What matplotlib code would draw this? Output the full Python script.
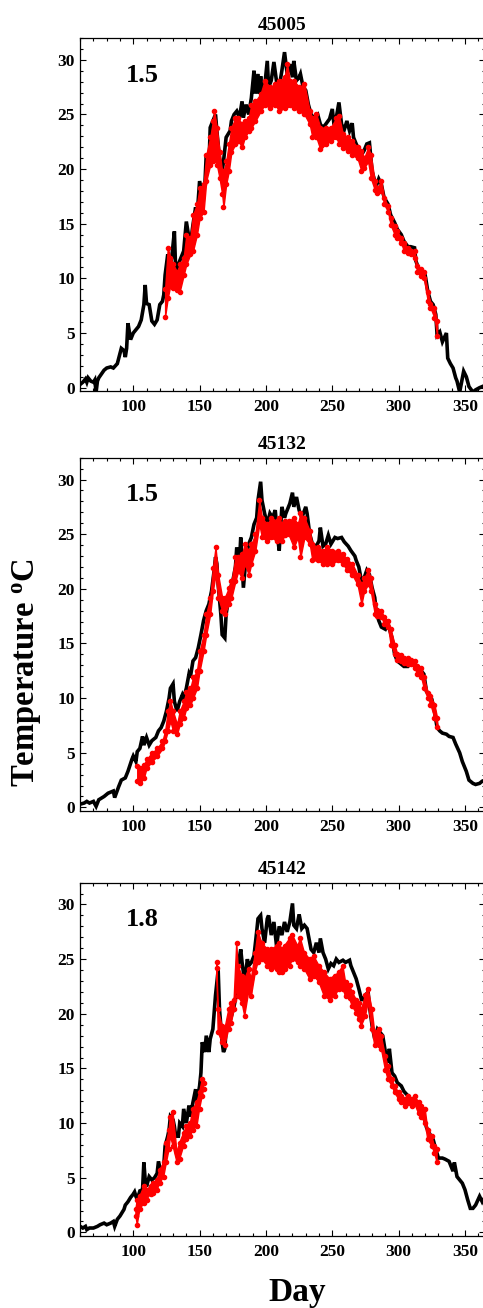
import numpy as np
import matplotlib
matplotlib.use('Agg')
import matplotlib.pyplot as plt
from matplotlib.ticker import MultipleLocator

plt.rcParams['font.family'] = ['Liberation Serif', 'DejaVu Serif']
plt.rcParams['font.weight'] = 'bold'
plt.rcParams['mathtext.fontset'] = 'custom'
plt.rcParams['mathtext.rm'] = 'Liberation Serif:bold'
plt.rcParams['mathtext.bf'] = 'Liberation Serif:bold'
plt.rcParams['mathtext.it'] = 'Liberation Serif:bold:italic'

titles = ['45005', '45132', '45142']
labels = ['1.5', '1.5', '1.8']

# ---------------- Panel 1 (45005) ----------------
b1_day = [60, 62, 64, 65, 66, 68, 70, 71, 72, 73,
          74, 78, 80, 83, 85, 88, 91, 93, 94, 95,
          96, 98, 100, 104, 106, 108, 109, 110, 112, 114,
          116, 118, 120, 122, 123, 124, 126, 127, 129, 131,
          132, 134, 136, 138, 140, 142, 144, 145, 147, 148,
          150, 152, 154, 155, 157, 158, 160, 162, 163, 165,
          167, 168, 170, 173, 174, 176, 178, 180, 182, 183,
          185, 187, 189, 191, 192, 194, 195, 196, 197, 199,
          201, 202, 204, 206, 208, 210, 212, 214, 216, 218,
          220, 221, 223, 225, 226, 228, 230, 232, 234, 236,
          239, 241, 243, 245, 248, 250, 251, 253, 255, 257,
          259, 261, 263, 265, 266, 268, 270, 272, 274, 276,
          278, 280, 282, 283, 285, 287, 289, 292, 294, 297,
          299, 302, 304, 307, 309, 312, 313, 315, 318, 320,
          322, 324, 326, 328, 329, 331, 333, 336, 337, 339,
          341, 343, 344, 346, 348, 349, 351, 353, 356, 358,
          361, 363, 365]
b1_temp = [0.3, 0.5, 0.8, 0.5, 0.9, 0.6, 0.5, 0.7, -0.4, 0.6,
           0.9, 1.6, 1.8, 1.9, 1.8, 2.2, 3.6, 3.4, 2.8, 3.6,
           5.9, 4.4, 5.0, 5.6, 6.2, 7.6, 9.4, 7.7, 7.6, 6.1,
           5.8, 6.2, 7.6, 7.9, 8.5, 10.3, 12.2, 10.9, 11.9, 14.3,
           10.6, 11.3, 11.9, 12.5, 15.2, 13.7, 14.0, 14.9, 16.5, 15.5,
           18.9, 17.7, 18.6, 21.3, 20.1, 23.8, 24.4, 25.0, 23.5, 21.0,
           19.8, 20.7, 22.9, 23.5, 24.4, 25.0, 25.3, 24.7, 26.2, 24.7,
           25.9, 25.0, 26.5, 29.0, 26.9, 28.7, 26.9, 28.5, 27.0, 27.5,
           29.9, 27.5, 28.1, 29.8, 28.0, 27.5, 29.0, 30.7, 28.7, 29.6,
           28.4, 29.9, 28.1, 28.4, 28.7, 27.5, 27.2, 25.9, 25.0, 24.7,
           25.0, 24.1, 23.8, 24.1, 24.6, 25.5, 24.4, 24.7, 26.1, 24.1,
           23.6, 24.4, 23.5, 24.2, 22.9, 22.3, 21.8, 21.3, 21.7, 22.3,
           22.4, 19.8, 18.9, 18.4, 19.1, 18.6, 17.4, 16.8, 15.8, 15.1,
           14.5, 14.0, 13.4, 12.9, 12.9, 12.8, 11.6, 10.9, 10.6, 10.3,
           8.8, 7.9, 7.6, 6.7, 4.8, 5.1, 4.2, 5.0, 2.7, 2.2,
           1.8, 0.9, 0.6, -0.4, 0.9, 1.5, 1.0, 0.1, -0.4, -0.2,
           0.0, 0.1, 0.2]

r1_day = [124, 126, 128, 130, 133, 135, 138, 140, 143, 145,
          148, 150, 153, 155, 158, 160, 161, 163, 165, 167,
          168, 170, 172, 174, 177, 179, 182, 184, 187, 189,
          192, 196, 199, 203, 207, 210, 214, 216, 218, 221,
          225, 229, 233, 235, 238, 241, 245, 249, 253, 255,
          258, 262, 265, 269, 272, 274, 277, 279, 282, 284,
          287, 289, 292, 294, 297, 299, 302, 304, 307, 309,
          312, 314, 317, 319, 322, 324, 327, 329]
r1_hi = [9.0, 12.8, 11.9, 11.3, 10.6, 11.3, 11.9, 14.0, 13.7, 15.8,
         16.8, 18.3, 18.6, 21.3, 22.9, 24.4, 25.3, 23.8, 21.6, 19.8,
         19.8, 20.7, 22.3, 23.8, 24.7, 24.7, 24.1, 24.4, 24.7, 25.9,
         26.2, 26.9, 28.1, 27.5, 27.8, 28.1, 28.4, 29.6, 28.1, 28.1,
         27.5, 27.8, 25.3, 24.7, 25.0, 23.8, 23.8, 23.8, 24.7, 24.9,
         23.2, 22.9, 22.6, 22.0, 21.7, 21.0, 22.0, 21.3, 18.9, 18.3,
         18.9, 17.4, 16.6, 15.5, 14.8, 14.3, 13.7, 13.2, 12.8, 12.5,
         12.5, 11.1, 10.9, 10.6, 8.8, 7.7, 7.3, 6.1]
r1_lo = [6.5, 8.2, 9.4, 9.1, 8.9, 8.8, 10.3, 11.3, 12.2, 12.5,
         14.0, 15.5, 16.1, 18.9, 20.4, 20.7, 21.0, 20.4, 19.2, 17.7,
         16.5, 18.6, 19.8, 21.6, 22.3, 22.6, 22.0, 22.9, 23.5, 23.8,
         24.4, 25.3, 25.9, 25.6, 25.9, 25.3, 25.6, 25.9, 25.9, 25.6,
         25.3, 25.0, 24.1, 22.9, 22.9, 21.8, 22.3, 22.6, 22.9, 22.3,
         21.9, 21.7, 21.3, 21.0, 19.8, 20.1, 20.7, 19.2, 18.1, 17.8,
         18.0, 16.8, 16.1, 14.9, 14.0, 13.7, 13.2, 12.5, 12.3, 12.2,
         11.9, 10.6, 10.2, 10.0, 7.9, 7.3, 6.4, 4.7]

# ---------------- Panel 2 (45132) ----------------
b2_day = [60, 63, 65, 67, 70, 72, 74, 78, 81, 85,
          86, 89, 91, 94, 96, 99, 100, 102, 103, 105,
          107, 108, 110, 112, 114, 117, 119, 121, 123, 125,
          127, 128, 130, 131, 133, 135, 137, 138, 140, 142,
          143, 145, 147, 149, 151, 153, 155, 157, 159, 161,
          162, 163, 164, 166, 167, 169, 170, 172, 174, 175,
          177, 178, 180, 181, 183, 185, 187, 189, 191, 193,
          194, 196, 197, 199, 201, 203, 205, 207, 209, 210,
          212, 214, 215, 218, 220, 221, 223, 225, 227, 230,
          231, 233, 235, 238, 240, 241, 243, 245, 247, 249,
          252, 254, 257, 259, 262, 264, 267, 268, 270, 272,
          274, 276, 278, 280, 282, 283, 285, 287, 290, 292,
          295, 297, 299, 302, 304, 307, 309, 312, 314, 317,
          319, 321, 323, 325, 327, 329, 331, 333, 336, 338,
          341, 343, 346, 348, 351, 353, 356, 358, 361, 363,
          365]
b2_temp = [0.3, 0.4, 0.55, 0.4, 0.55, 0.1, 0.7, 1.0, 1.3, 1.5,
           0.9, 1.9, 2.5, 2.7, 3.3, 4.4, 4.7, 4.2, 5.1, 5.4,
           6.5, 5.7, 6.4, 5.7, 6.1, 6.4, 7.0, 7.3, 7.9, 8.8,
           10.0, 10.9, 11.3, 9.7, 8.8, 9.7, 10.3, 10.0, 10.9, 12.2,
           11.9, 13.4, 13.7, 14.6, 15.8, 17.1, 18.0, 18.6, 19.8, 21.7,
           22.9, 22.3, 20.4, 17.7, 15.8, 15.5, 17.7, 19.2, 20.4, 20.7,
           22.0, 23.8, 22.3, 24.7, 20.1, 22.9, 24.1, 24.7, 25.9, 26.5,
           28.1, 29.8, 28.1, 26.9, 25.9, 26.9, 26.5, 27.2, 24.5, 23.5,
           27.5, 26.5, 26.9, 27.8, 28.8, 27.5, 28.4, 27.2, 26.5, 27.5,
           26.9, 25.0, 24.1, 23.9, 24.4, 25.6, 23.9, 24.1, 24.9, 24.1,
           24.7, 24.6, 24.7, 24.3, 23.9, 23.5, 23.0, 22.6, 22.0, 20.7,
           21.0, 21.7, 21.3, 20.1, 19.2, 18.0, 17.1, 16.5, 16.3, 16.8,
           15.5, 14.0, 13.4, 13.1, 12.9, 12.9, 13.2, 13.2, 12.8, 12.5,
           12.2, 10.6, 10.3, 9.9, 8.8, 7.3, 7.0, 6.8, 6.7, 6.5,
           6.4, 5.8, 5.0, 4.2, 3.3, 2.5, 2.2, 2.1, 2.2, 2.4,
           2.5]

r2_day = [103, 105, 108, 110, 114, 118, 122, 124, 126, 128,
          130, 133, 135, 138, 140, 143, 145, 148, 150, 153,
          155, 158, 160, 162, 164, 167, 169, 172, 174, 177,
          179, 182, 184, 187, 189, 192, 195, 197, 201, 204,
          208, 210, 212, 214, 217, 221, 224, 226, 229, 233,
          235, 239, 243, 246, 250, 254, 258, 261, 265, 269,
          272, 274, 277, 279, 282, 284, 287, 289, 292, 294,
          297, 299, 302, 304, 307, 309, 312, 314, 317, 319,
          322, 324, 327, 329]
r2_hi = [3.8, 3.6, 3.9, 4.4, 5.0, 5.4, 6.1, 7.0, 8.8, 9.7,
         8.8, 7.6, 8.8, 9.7, 10.6, 10.9, 11.9, 12.5, 14.3, 15.8,
         17.7, 19.2, 21.9, 23.8, 21.3, 19.2, 19.2, 20.1, 20.7, 22.9,
         22.9, 23.2, 24.1, 23.5, 24.1, 25.0, 28.1, 26.5, 25.9, 26.5,
         26.2, 26.5, 25.9, 26.2, 26.2, 26.5, 25.9, 26.9, 26.5, 25.3,
         24.1, 23.8, 23.5, 23.8, 23.5, 23.5, 23.2, 22.7, 22.3, 21.3,
         20.4, 21.0, 21.7, 21.0, 18.6, 18.1, 18.0, 17.4, 17.1, 16.3,
         14.9, 14.0, 13.9, 13.7, 13.7, 13.5, 13.4, 12.9, 12.8, 11.9,
         10.5, 10.2, 9.4, 8.2]
r2_lo = [2.4, 2.2, 2.7, 3.6, 4.2, 4.7, 5.4, 6.1, 7.0, 7.9,
         7.0, 6.7, 7.6, 8.2, 9.1, 9.4, 10.0, 10.9, 12.5, 14.3,
         15.8, 17.7, 19.8, 21.3, 19.2, 18.0, 17.7, 18.6, 19.2, 20.7,
         21.6, 21.0, 22.3, 21.3, 22.3, 23.5, 25.9, 24.7, 24.4, 24.7,
         24.4, 24.7, 24.4, 24.9, 25.0, 23.8, 24.7, 22.9, 24.7, 24.1,
         22.6, 22.6, 22.3, 22.3, 22.3, 22.6, 22.3, 21.7, 21.3, 20.4,
         18.6, 19.8, 20.4, 19.8, 17.7, 17.5, 17.4, 16.8, 16.5, 14.9,
         14.0, 13.5, 13.4, 13.2, 13.1, 13.1, 12.8, 12.2, 11.9, 10.9,
         10.0, 9.4, 8.2, 7.4]

# ---------------- Panel 3 (45142) ----------------
b3_day = [60, 62, 64, 65, 67, 70, 73, 75, 78, 80,
          83, 85, 86, 88, 90, 93, 94, 96, 98, 100,
          101, 102, 103, 105, 107, 108, 109, 110, 112, 114,
          116, 118, 119, 121, 123, 124, 126, 127, 128, 130,
          131, 132, 134, 135, 137, 138, 140, 142, 143, 145,
          147, 148, 150, 151, 152, 154, 155, 157, 158, 160,
          161, 162, 163, 164, 165, 167, 168, 169, 170, 172,
          174, 176, 178, 179, 181, 182, 184, 186, 187, 189,
          191, 193, 194, 196, 197, 199, 201, 202, 204, 206,
          208, 210, 212, 214, 216, 218, 220, 221, 223, 225,
          227, 229, 231, 233, 234, 236, 238, 240, 241, 243,
          245, 247, 249, 251, 253, 255, 258, 260, 263, 264,
          266, 268, 270, 272, 273, 275, 277, 278, 280, 282,
          284, 286, 288, 290, 292, 293, 295, 297, 299, 302,
          304, 307, 309, 312, 314, 317, 319, 321, 323, 326,
          328, 330, 333, 335, 338, 339, 341, 342, 344, 346,
          348, 350, 352, 354, 356, 358, 361, 363, 365]
b3_temp = [0.55, 0.4, 0.55, 0.25, 0.4, 0.4, 0.55, 0.7, 0.85, 0.7,
           0.85, 1.0, 0.55, 1.2, 1.5, 2.1, 2.5, 2.8, 3.2, 3.5,
           3.7, 3.3, 3.0, 3.8, 3.9, 6.4, 4.8, 4.2, 5.1, 4.8,
           5.0, 5.4, 6.5, 5.4, 6.1, 7.9, 8.8, 9.4, 10.6, 10.3,
           9.7, 8.8, 8.8, 10.0, 9.7, 11.3, 10.0, 11.6, 10.6, 11.9,
           13.1, 11.9, 13.4, 14.6, 17.4, 16.5, 18.0, 16.5, 17.7, 18.6,
           20.1, 21.7, 22.9, 24.0, 20.4, 17.4, 16.5, 16.8, 18.6, 18.9,
           19.8, 20.7, 22.0, 24.4, 25.9, 24.7, 22.9, 25.0, 24.4, 24.7,
           25.3, 27.5, 28.7, 29.0, 27.8, 26.5, 28.7, 29.0, 27.2, 28.4,
           26.2, 28.0, 27.2, 28.4, 27.5, 28.4, 30.1, 28.1, 27.8, 29.1,
           27.8, 28.1, 27.8, 26.5, 25.9, 25.6, 26.5, 25.6, 26.9, 25.6,
           25.0, 24.1, 24.6, 24.4, 25.0, 24.7, 24.9, 24.7, 24.9, 24.4,
           23.8, 23.2, 22.3, 21.3, 21.3, 21.7, 22.0, 20.7, 18.9, 17.7,
           18.6, 18.3, 18.0, 16.5, 15.5, 16.8, 14.6, 14.3, 13.7, 13.4,
           12.9, 12.5, 12.2, 12.2, 11.9, 11.3, 10.6, 9.6, 9.1, 8.5,
           7.6, 6.8, 6.8, 6.7, 6.5, 6.2, 5.6, 6.4, 5.1, 4.8,
           4.5, 3.9, 3.0, 2.2, 2.2, 2.5, 3.3, 2.8, 3.2]

r3_day = [102, 103, 105, 108, 110, 113, 115, 118, 120, 123,
          125, 127, 128, 130, 133, 135, 138, 140, 143, 145,
          148, 150, 152, 153, 158, 163, 164, 167, 169, 172,
          174, 176, 178, 179, 182, 184, 187, 189, 192, 194,
          197, 201, 204, 208, 210, 212, 214, 218, 220, 224,
          226, 229, 233, 236, 240, 244, 248, 252, 255, 258,
          260, 263, 265, 268, 270, 272, 275, 277, 280, 282,
          285, 287, 290, 292, 295, 297, 300, 302, 305, 307,
          310, 312, 315, 317, 320, 322, 325, 327, 329]
r3_hi = [2.1, 3.0, 3.3, 4.2, 3.9, 4.2, 4.5, 4.8, 5.7, 6.4,
         8.2, 9.4, 10.6, 11.0, 7.3, 8.2, 9.1, 9.7, 10.0, 11.3,
         11.9, 12.8, 14.0, 13.7, np.nan, 24.7, 20.4, 18.9, 18.6, 20.4,
         21.0, 21.3, 26.5, 24.4, 23.5, 23.2, 24.1, 23.2, 25.6, 27.5,
         26.5, 25.9, 25.9, 26.2, 26.5, 25.9, 26.2, 26.9, 27.2, 26.2,
         26.9, 25.6, 25.0, 25.3, 24.4, 23.8, 23.2, 23.5, 23.8, 24.4,
         22.9, 22.6, 22.0, 21.3, 21.0, 20.4, 21.7, 22.3, 20.4, 18.3,
         18.6, 18.0, 16.1, 15.2, 14.0, 13.4, 12.8, 12.5, 12.2, 12.5,
         12.2, 12.5, 11.9, 11.6, 11.3, 9.4, 8.8, 7.9, 7.6]
r3_lo = [1.5, 0.7, 2.1, 2.7, 3.0, 3.5, 3.6, 3.9, 4.5, 5.1,
         6.4, 7.6, 8.8, 7.9, 6.4, 6.7, 7.9, 8.5, 8.8, 9.4,
         9.7, 11.3, 12.5, 13.1, np.nan, 24.2, 18.3, 17.4, 17.1, 18.6,
         19.2, 20.4, 22.3, 21.6, 21.0, 19.8, 22.0, 21.6, 23.8, 24.7,
         25.0, 24.4, 24.1, 24.1, 23.8, 23.8, 24.1, 24.4, 25.0, 24.7,
         24.4, 24.1, 23.2, 23.5, 22.9, 21.6, 21.3, 21.6, 22.3, 22.3,
         21.6, 21.4, 20.7, 20.1, 19.5, 18.9, 19.8, 21.0, 18.6, 17.1,
         17.1, 16.8, 14.9, 14.0, 13.4, 12.8, 12.2, 11.9, 11.6, 11.8,
         11.6, 11.8, 10.9, 10.6, 10.0, 8.5, 7.9, 7.3, 6.4]

black = [(b1_day, b1_temp), (b2_day, b2_temp), (b3_day, b3_temp)]
red = [(r1_day, r1_hi, r1_lo), (r2_day, r2_hi, r2_lo), (r3_day, r3_hi, r3_lo)]

fig = plt.figure(figsize=(4.83, 13.08), dpi=100)
positions = [[0.1660, 0.7011, 0.8379, 0.2699],
             [0.1660, 0.3802, 0.8379, 0.2699],
             [0.1660, 0.0553, 0.8379, 0.2699]]

for i in range(3):
    ax = fig.add_axes(positions[i])
    bd, bt = black[i]
    ax.plot(bd, bt, color='black', lw=2.6, solid_joinstyle='miter', zorder=2)
    rd, rh, rl = red[i]
    ax.fill_between(rd, rl, rh, color='red', lw=1.0, edgecolor='red', zorder=3)
    ax.plot(rd, rh, ls='none', marker='o', ms=3, color='red', mec='red', zorder=4)
    ax.plot(rd, rl, ls='none', marker='o', ms=3, color='red', mec='red', zorder=4)
    ax.set_xlim(60, 365)
    ax.set_ylim(-0.3, 32)
    ax.xaxis.set_major_locator(MultipleLocator(50))
    ax.xaxis.set_minor_locator(MultipleLocator(10))
    ax.yaxis.set_major_locator(MultipleLocator(5))
    ax.yaxis.set_minor_locator(MultipleLocator(1))
    ax.tick_params(which='both', direction='in', top=True, right=True,
                   width=0.8, labelsize=12.5)
    ax.tick_params(which='major', length=4.5)
    ax.tick_params(which='minor', length=2.5)
    ax.tick_params(axis='x', pad=6)
    ax.tick_params(axis='y', pad=4)
    for lab in ax.get_xticklabels() + ax.get_yticklabels():
        lab.set_fontweight('bold')
    for sp in ax.spines.values():
        sp.set_linewidth(0.9)
    ax.set_title(titles[i], fontsize=14, fontweight='bold', pad=6)
    ax.text(94.5, 28.0, labels[i], fontsize=19, fontweight='bold',
            ha='left', va='baseline')

fig.text(0.056, 1 - 673 / 1308, r'Temperature $^{\mathbf{o}}$C', rotation=90,
         fontsize=23.5, fontweight='bold', ha='center', va='center')
fig.text(297 / 483, 1 - 1293 / 1308, 'Day', fontsize=24, fontweight='bold',
         ha='center', va='center')

fig.savefig('out.png', dpi=100)
